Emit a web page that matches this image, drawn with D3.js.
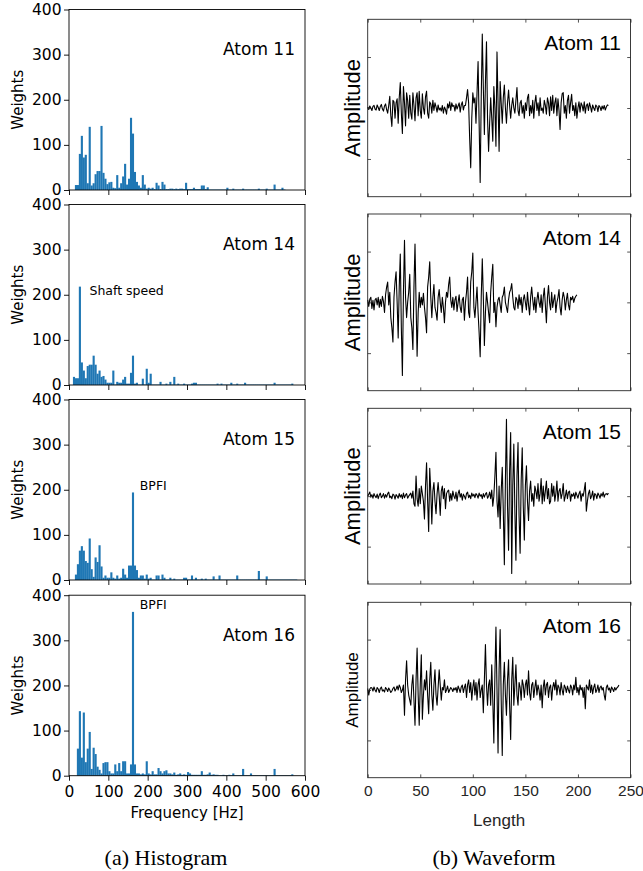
<!DOCTYPE html>
<html>
<head>
<meta charset="utf-8">
<script src="https://cdn.jsdelivr.net/npm/d3@7"></script>
<style>
  body { margin: 0; background: #fff; }
  svg { display: block; }
</style>
</head>
<body>
<svg id="fig" width="643" height="871"></svg>
<script>
(function () {

    // ---- data ----

    var atoms = ['Atom 11', 'Atom 14', 'Atom 15', 'Atom 16'];

    // histogram weights, one value per 5 Hz bin starting at 0 Hz
    var binWidth = 5;

    var hist11 = [0, 0, 0, 11, 11, 80, 120, 72, 78, 15,
        140, 10, 15, 35, 42, 42, 142, 38, 25, 13,
        17, 18, 5, 4, 33, 5, 15, 30, 58, 12,
        25, 160, 125, 40, 18, 10, 5, 33, 12, 3,
        5, 3, 5, 2, 16, 10, 2, 18, 12, 2,
        2, 3, 3, 2, 3, 2, 3, 3, 2, 16,
        2, 2, 2, 5, 2, 2, 2, 10, 10, 2,
        6, 1, 1, 1, 1, 1, 1, 1, 1, 1,
        5, 1, 1, 3, 1, 1, 1, 1, 3, 1,
        1, 1, 1, 1, 1, 1, 3, 1, 1, 1,
        3, 1, 1, 1, 12, 1, 1, 1, 5, 1,
        0, 0, 0, 0, 0, 0, 0, 0, 0, 0];

    var hist14 = [0, 0, 18, 15, 15, 218, 50, 32, 15, 42,
        45, 45, 65, 45, 25, 32, 18, 20, 12, 5,
        5, 5, 32, 1, 7, 5, 5, 12, 18, 3,
        3, 27, 65, 3, 5, 1, 1, 14, 1, 36,
        5, 25, 1, 1, 1, 1, 7, 1, 1, 3,
        1, 7, 1, 18, 1, 3, 1, 1, 3, 1,
        1, 1, 3, 5, 5, 1, 1, 1, 1, 1,
        1, 1, 1, 1, 1, 3, 1, 3, 1, 1,
        1, 1, 5, 1, 1, 3, 1, 1, 1, 5,
        1, 1, 1, 1, 1, 1, 1, 1, 1, 1,
        1, 1, 1, 1, 5, 1, 1, 1, 1, 1,
        1, 1, 1, 3, 0, 0, 0, 0, 0, 0];

    var hist15 = [0, 0, 0, 12, 35, 65, 75, 65, 42, 38,
        92, 24, 7, 50, 40, 77, 30, 5, 10, 5,
        5, 17, 5, 3, 10, 3, 5, 25, 12, 5,
        32, 32, 194, 32, 22, 5, 10, 10, 3, 12,
        3, 5, 1, 1, 10, 10, 1, 12, 5, 1,
        1, 5, 1, 3, 1, 1, 1, 1, 5, 5,
        1, 1, 10, 1, 5, 1, 1, 3, 1, 3,
        1, 1, 1, 8, 1, 1, 10, 1, 1, 1,
        1, 1, 1, 1, 1, 10, 1, 1, 1, 1,
        1, 1, 1, 1, 1, 1, 20, 1, 1, 1,
        8, 1, 1, 1, 1, 1, 1, 1, 1, 1,
        1, 1, 1, 1, 1, 1, 0, 0, 0, 0];

    var hist16 = [0, 0, 0, 0, 60, 143, 40, 140, 30, 60,
        97, 15, 62, 48, 20, 13, 5, 28, 30, 30,
        10, 5, 5, 25, 10, 28, 10, 32, 32, 5,
        5, 25, 363, 25, 5, 5, 3, 5, 3, 32,
        5, 3, 10, 3, 3, 17, 10, 5, 10, 12,
        5, 5, 3, 7, 2, 3, 5, 2, 3, 2,
        8, 5, 2, 2, 2, 2, 2, 10, 2, 2,
        3, 7, 2, 3, 2, 2, 1, 1, 2, 1,
        1, 2, 1, 5, 1, 1, 1, 1, 15, 1,
        1, 1, 5, 1, 1, 1, 1, 1, 1, 1,
        1, 1, 1, 1, 15, 1, 1, 1, 1, 1,
        1, 1, 1, 3, 0, 0, 0, 0, 0, 0];

    var histograms = [hist11, hist14, hist15, hist16];

    // annotations: [atom index, frequency, weight, text]
    var notes = [
        [1, 52, 200, 'Shaft speed'],
        [2, 180, 200, 'BPFI'],
        [3, 180, 370, 'BPFI']
    ];

    // waveforms (one value per sample)
    var wave11 = [0.02, -0.03, 0.04, 0.00, -0.05, 0.03, 0.05, -0.02, -0.04, 0.06,
        0.01, -0.05, 0.03, 0.07, -0.02, -0.06, 0.04, 0.08, -0.03, -0.10,
        0.05, 0.23, -0.15, -0.36, 0.15, 0.12, -0.2, 0.1, 0.18, -0.3,
        0.2, 0.5, -0.1, -0.5, 0.42, 0.1, -0.35, 0.3, 0.15, -0.2,
        0.25, -0.1, -0.22, 0.3, 0.05, -0.25, 0.2, 0.3, -0.15, 0.33,
        -0.05, -0.2, 0.28, 0.0, -0.12, 0.22, 0.33, -0.1, -0.2, 0.12,
        0.08, -0.1, 0.15, -0.05, 0.1, 0.02, -0.08, 0.06, -0.04, 0.0,
        -0.06, 0.05, -0.1, 0.02, -0.03, -0.12, 0.08, 0.0, 0.12, -0.05,
        0.1, 0.03, 0.05, -0.06, 0.08, -0.02, 0.04, 0.1, -0.08, 0.06,
        0.12, -0.04, 0.05, 0.05, 0.2, 0.36, 0.1, -0.6, -1.17, -0.2,
        0.3, 0.1, 0.2, -0.3, 0.3, 0.91, -0.3, -1.46, 0.2, 1.45,
        0.4, -0.52, 0.5, 1.3, -0.2, -0.85, -0.3, 0.2, -0.2, -0.65,
        0.42, 0.0, -0.75, 1.1, 0.1, -0.85, 0.52, 0.1, -0.3, 0.2,
        0.45, 0.0, -0.3, 0.1, 0.35, 0.05, -0.2, 0.05, 0.2, 0.0,
        -0.1, 0.15, 0.4, -0.05, -0.15, 0.1, 0.15, -0.1, 0.05, -0.2,
        0.1, -0.05, 0.2, 0.27, -0.15, 0.05, -0.1, 0.15, -0.2, 0.1,
        0.25, -0.05, 0.1, -0.15, 0.2, -0.05, 0.0, -0.1, 0.15, 0.05,
        -0.12, 0.2, 0.1, -0.15, 0.22, -0.05, 0.25, -0.1, 0.1, 0.2,
        -0.15, 0.18, -0.05, -0.42, 0.1, 0.28, 0.3, -0.1, 0.05, -0.2,
        0.15, 0.25, -0.1, 0.1, 0.27, -0.05, 0.05, -0.15, 0.1, -0.2,
        0.0, 0.12, -0.08, 0.1, 0.05, -0.06, 0.12, -0.1, 0.05, 0.08,
        -0.05, 0.1, 0.02, -0.08, 0.06, 0.0, -0.05, 0.06, 0.03, -0.07,
        0.05, 0.02, -0.05, 0.04, -0.02, 0.05, -0.04, 0.02, 0.06, 0.05];

    var wave14 = [0.05, -0.08, 0.06, 0.1, -0.12, 0.04, -0.15, 0.05, 0.08, -0.05,
        0.1, -0.1, 0.06, -0.08, 0.12, 0.02, -0.2, 0.15, 0.3, 0.4,
        -0.05, 0.2, -0.3, -0.5, -0.78, 0.1, 0.4, 0.6, 0.0, -0.7,
        0.3, 0.95, -0.5, -1.44, 0.2, 1.22, 0.1, -0.3, 0.0, 0.2,
        0.55, -0.3, -0.5, -0.93, 0.3, 1.15, 0.0, -1.06, -0.2, 0.2,
        -0.1, 0.1, -0.05, 0.18, -0.1, -0.3, -0.6, 0.3, 0.5, 0.8,
        0.1, -0.3, 0.1, 0.35, -0.1, -0.2, -0.35, 0.1, 0.25, 0.0,
        -0.2, 0.1, -0.1, -0.4, 0.0, 0.2, 0.1, 0.35, 0.5, 0.05,
        -0.1, 0.1, -0.15, 0.05, 0.12, -0.18, 0.0, 0.15, -0.1, -0.2,
        0.05, 0.1, -0.35, 0.0, 0.2, 0.5, -0.2, -0.3, 0.4, 0.6,
        0.97, -0.1, -0.3, 0.0, 0.3, -0.2, -0.6, -1.07, 0.1, 0.86,
        0.1, -0.85, -0.2, 0.2, 0.0, -0.2, -0.4, 0.2, 0.5, 0.75,
        -0.2, 0.0, -0.48, -0.1, 0.05, 0.1, -0.05, -0.2, 0.1, 0.15,
        0.3, 0.0, -0.1, -0.2, 0.05, 0.2, 0.25, 0.37, 0.1, -0.1,
        -0.15, 0.1, 0.05, -0.12, 0.15, -0.05, 0.1, -0.2, 0.05, 0.15,
        0.0, -0.15, 0.2, -0.05, -0.25, 0.1, 0.3, 0.05, -0.15, 0.1,
        -0.2, 0.05, 0.2, 0.0, -0.1, 0.15, -0.2, 0.1, 0.28, -0.05,
        -0.4, 0.1, 0.33, 0.0, -0.15, 0.2, -0.1, 0.05, 0.15, -0.2,
        0.0, 0.1, 0.25, -0.1, -0.25, 0.05, 0.2, 0.1, -0.15, 0.05,
        0.18, -0.05, -0.15, 0.1, 0.05, 0.12, 0.0, 0.08, 0.12, 0.15];

    var wave15 = [0.0, 0.04, 0.08, -0.02, 0.03, -0.04, 0.05, 0.0, -0.03, 0.04,
        -0.05, 0.02, 0.06, -0.03, 0.0, 0.05, -0.04, 0.03, -0.02, 0.05,
        0.08, -0.03, 0.0, -0.05, 0.04, 0.02, -0.06, 0.03, 0.0, -0.04,
        0.05, -0.02, 0.03, -0.05, 0.06, -0.03, 0.02, 0.05, -0.04, 0.0,
        0.03, 0.06, -0.04, 0.1, -0.15, -0.2, 0.4, -0.05, -0.2, 0.15,
        -0.15, 0.2, 0.05, -0.1, -0.45, 0.2, 0.66, -0.1, -0.7, 0.55,
        0.1, -0.55, 0.1, 0.27, -0.1, -0.35, 0.05, 0.27, 0.0, -0.38,
        0.1, 0.2, -0.05, 0.15, -0.25, 0.05, 0.1, 0.12, -0.1, 0.05,
        -0.08, 0.1, 0.0, -0.05, 0.08, -0.1, 0.05, 0.12, -0.02, 0.05,
        -0.08, 0.04, 0.0, -0.06, 0.05, 0.08, -0.03, 0.02, -0.05, 0.06,
        0.0, 0.04, -0.03, 0.05, 0.02, -0.04, 0.06, 0.0, 0.03, -0.05,
        0.05, -0.02, 0.04, 0.07, -0.04, 0.0, 0.08, -0.05, 0.12, -0.2,
        0.0, 0.4, 0.87, -0.1, -0.41, 0.2, -0.64, 0.1, 0.57, -0.3,
        -1.36, 0.3, 1.52, -0.2, -1.07, 0.5, 1.26, -1.53, 0.2, 1.03,
        -0.3, -1.27, 0.4, 1.06, -0.4, -1.13, 0.3, 0.96, -0.2, -0.87,
        0.2, 0.6, -0.1, -0.48, 0.1, 0.3, -0.1, 0.05, -0.2, 0.2,
        0.1, -0.05, 0.25, -0.1, 0.05, 0.35, -0.15, 0.2, -0.1, 0.1,
        0.3, -0.05, 0.15, -0.15, -0.1, 0.25, 0.0, 0.2, -0.1, 0.05,
        0.3, -0.1, 0.1, 0.15, -0.05, 0.05, 0.25, -0.1, 0.0, 0.12,
        -0.05, 0.08, 0.1, -0.1, 0.04, 0.0, 0.06, -0.05, 0.08, 0.02,
        -0.04, 0.05, 0.1, -0.1, 0.05, 0.0, 0.12, 0.27, -0.3, -0.1,
        0.05, 0.12, -0.05, 0.0, 0.1, -0.08, 0.05, 0.03, -0.05, 0.06,
        0.02, -0.04, 0.05, 0.0, 0.08, -0.02, 0.04, 0.05, 0.03, 0.06];

    var wave16 = [0.03, -0.1, 0.02, 0.05, 0.04, -0.02, 0.06, 0.0, -0.04, 0.05,
        0.02, -0.05, 0.03, 0.06, -0.02, 0.0, -0.04, 0.05, 0.02, -0.03,
        0.04, 0.0, -0.05, -0.02, 0.03, 0.06, -0.02, 0.02, 0.08, 0.0,
        0.1, 0.05, -0.05, 0.0, 0.1, -0.5, 0.2, 0.58, 0.1, -0.1,
        -0.2, -0.3, 0.1, 0.3, -0.2, -0.7, 0.2, 0.83, -0.1, -0.7,
        0.1, 0.7, -0.58, -0.1, 0.2, 0.0, 0.38, -0.1, -0.47, 0.2,
        0.55, -0.1, -0.4, 0.1, 0.4, -0.1, -0.3, 0.05, 0.4, 0.1,
        -0.2, 0.05, 0.0, 0.2, -0.05, 0.0, 0.08, -0.05, 0.0, 0.05,
        0.02, -0.03, 0.04, 0.0, 0.05, -0.05, 0.08, 0.02, -0.05, 0.06,
        0.1, -0.05, 0.05, 0.12, -0.15, 0.1, 0.2, -0.05, 0.15, -0.2,
        0.05, 0.2, -0.1, 0.15, -0.2, 0.1, 0.22, -0.15, 0.0, 0.1,
        -0.45, 0.2, 0.9, 0.1, -0.3, 0.1, 0.2, -0.3, 0.5, -0.2,
        -1.05, 0.3, 1.25, 0.0, -1.25, 0.4, 1.2, -0.2, -1.3, 0.1,
        0.55, -0.1, -0.5, 0.2, 0.6, -0.3, -0.98, 0.2, 0.65, -0.3,
        0.1, 0.5, -0.1, -0.3, 0.15, 0.05, -0.2, 0.2, 0.1, -0.15,
        0.1, 0.2, -0.1, 0.38, -0.05, -0.2, 0.1, 0.15, -0.15, 0.05,
        0.2, -0.1, 0.1, 0.0, -0.2, 0.1, -0.35, 0.05, 0.2, -0.1,
        0.1, 0.15, -0.15, 0.05, 0.1, -0.2, 0.05, 0.15, 0.0, 0.2,
        -0.1, 0.1, 0.05, -0.1, 0.15, 0.0, -0.1, 0.1, 0.05, -0.05,
        0.08, 0.0, -0.06, 0.1, 0.05, -0.1, 0.1, 0.0, 0.25, -0.05,
        0.05, -0.1, 0.1, 0.0, 0.05, -0.15, 0.05, -0.37, 0.1, 0.05,
        0.0, 0.2, -0.05, 0.1, -0.08, 0.05, 0.12, -0.05, 0.0, 0.1,
        -0.05, 0.05, 0.08, 0.0, 0.05, -0.1, -0.2, 0.05, 0.1, 0.0,
        0.04, -0.05, 0.06, 0.02, -0.03, 0.05, 0.0, 0.04, 0.06, 0.1];

    var waves = [wave11, wave14, wave15, wave16];

    var freqTicks = [0, 100, 200, 300, 400, 500, 600];
    var weightTicks = [0, 100, 200, 300, 400];
    var lengthTicks = [0, 50, 100, 150, 200, 250];
    var ampTicks = [-1, 0, 1];


    // ---- layout ----

    var svg = d3.select('#fig');

    var histFont = '"DejaVu Sans", sans-serif';
    var waveFont = '"Liberation Sans", Arial, Helvetica, sans-serif';

    var hLeft = 69, hRight = 305, hHeight = 180.5;
    var hTops = [9.5, 204.5, 399.5, 595.2];

    var wLeft = 367.7, wRight = 630.5;
    var wTops = [19.3, 214, 408.3, 602.3];
    var wBottoms = [196.7, 390.7, 584, 777.7];

    var xFreq = d3.scaleLinear().domain([0, 600]).range([hLeft, hRight]);
    var xLen = d3.scaleLinear().domain([0, 250]).range([wLeft, wRight]);


    // left column: histograms
    histograms.forEach(function (h, i) {
        var top = hTops[i], bottom = top + hHeight;
        var y = d3.scaleLinear().domain([0, 400]).range([bottom, top]);
        var g = svg.append('g').attr('class', 'hist');

        g.selectAll('.bar')
            .data(h)
            .enter()
            .append('rect')
            .attr('class', 'bar')
            .attr('x', function (d, k) { return xFreq(k * binWidth); })
            .attr('width', function (d, k) { return xFreq((k + 1) * binWidth) - xFreq(k * binWidth) + 0.15; })
            .attr('y', function (d) { return y(d); })
            .attr('height', function (d) { return bottom - y(d); })
            .attr('fill', '#1f77b4');

        var ya = g.append('g')
            .attr('transform', 'translate(' + hLeft + ',0)')
            .call(d3.axisLeft(y).tickValues(weightTicks).tickSize(5).tickPadding(2.5));

        var xa = g.append('g')
            .attr('transform', 'translate(0,' + bottom + ')')
            .call(d3.axisBottom(xFreq).tickValues(freqTicks).tickSize(5).tickPadding(5));

        if (i < 3) xa.selectAll('text').remove();

        [ya, xa].forEach(function (a) {
            a.select('.domain').remove();
            a.attr('font-family', histFont).attr('font-size', 15.5);
            a.selectAll('line').attr('stroke', '#000').attr('stroke-width', 0.9);
            a.selectAll('text').attr('fill', '#000');
        });

        g.append('rect')
            .attr('x', hLeft).attr('y', top)
            .attr('width', hRight - hLeft).attr('height', hHeight)
            .attr('fill', 'none')
            .attr('stroke', '#000')
            .attr('stroke-width', 0.9);

        g.append('text')
            .attr('x', 295).attr('y', top + 45.5)
            .attr('text-anchor', 'end')
            .attr('font-family', histFont).attr('font-size', 17)
            .text(atoms[i]);

        g.append('text')
            .attr('transform', 'translate(23,' + (top + hHeight / 2) + ') rotate(-90)')
            .attr('text-anchor', 'middle')
            .attr('font-family', histFont).attr('font-size', 15)
            .text('Weights');

        notes.filter(function (n) { return n[0] === i; }).forEach(function (n) {
            g.append('text')
                .attr('x', xFreq(n[1])).attr('y', y(n[2]))
                .attr('font-family', histFont).attr('font-size', 12.5)
                .text(n[3]);
        });
    });

    svg.append('text')
        .attr('x', (hLeft + hRight) / 2).attr('y', 818)
        .attr('text-anchor', 'middle')
        .attr('font-family', histFont).attr('font-size', 15)
        .text('Frequency [Hz]');


    // right column: waveforms
    waves.forEach(function (w, i) {
        var top = wTops[i], bottom = wBottoms[i];
        var y = d3.scaleLinear().domain([-1.74, 1.74]).range([bottom, top]);
        var g = svg.append('g').attr('class', 'wave');

        var line = d3.line()
            .x(function (d, k) { return xLen(k); })
            .y(function (d) { return y(d); });

        g.append('path')
            .datum(w)
            .attr('d', line)
            .attr('fill', 'none')
            .attr('stroke', '#000')
            .attr('stroke-width', 1.1)
            .attr('stroke-linejoin', 'round');

        var axes = [
            g.append('g').attr('transform', 'translate(' + wLeft + ',0)')
                .call(d3.axisLeft(y).tickValues(ampTicks).tickSize(-3.3).tickFormat('')),
            g.append('g').attr('transform', 'translate(' + wRight + ',0)')
                .call(d3.axisRight(y).tickValues(ampTicks).tickSize(-3.3).tickFormat('')),
            g.append('g').attr('transform', 'translate(0,' + top + ')')
                .call(d3.axisTop(xLen).tickValues(lengthTicks).tickSize(-3.3).tickFormat('')),
            g.append('g').attr('transform', 'translate(0,' + bottom + ')')
                .call(d3.axisBottom(xLen).tickValues(lengthTicks).tickSize(-3.3).tickPadding(7)
                    .tickFormat(i === 3 ? d3.format('d') : ''))
        ];

        axes.forEach(function (a) {
            a.select('.domain').remove();
            a.attr('font-family', waveFont).attr('font-size', 15.5);
            a.selectAll('line').attr('stroke', '#262626').attr('stroke-width', 0.8);
            a.selectAll('text').attr('fill', '#262626');
        });

        g.append('rect')
            .attr('x', wLeft).attr('y', top)
            .attr('width', wRight - wLeft).attr('height', bottom - top)
            .attr('fill', 'none')
            .attr('stroke', '#262626')
            .attr('stroke-width', 0.9);

        g.append('text')
            .attr('x', 621).attr('y', top + 30.7)
            .attr('text-anchor', 'end')
            .attr('font-family', waveFont).attr('font-size', 21)
            .text(atoms[i]);

        g.append('text')
            .attr('transform', 'translate(' + (i === 3 ? 358.3 : 360) + ',' + ((top + bottom) / 2) + ') rotate(-90)')
            .attr('text-anchor', 'middle')
            .attr('font-family', waveFont).attr('font-size', i === 3 ? 17 : 22)
            .text('Amplitude');
    });

    svg.append('text')
        .attr('x', (wLeft + wRight) / 2).attr('y', 826)
        .attr('text-anchor', 'middle')
        .attr('font-family', waveFont).attr('font-size', 17)
        .attr('fill', '#262626')
        .text('Length');


    // sub-captions
    var captionFont = '"Liberation Serif", "Times New Roman", serif';

    svg.append('text')
        .attr('x', 166).attr('y', 865)
        .attr('text-anchor', 'middle')
        .attr('font-family', captionFont).attr('font-size', 22)
        .text('(a) Histogram');

    svg.append('text')
        .attr('x', 494).attr('y', 865)
        .attr('text-anchor', 'middle')
        .attr('font-family', captionFont).attr('font-size', 22)
        .text('(b) Waveform');

})();
</script>
</body>
</html>
